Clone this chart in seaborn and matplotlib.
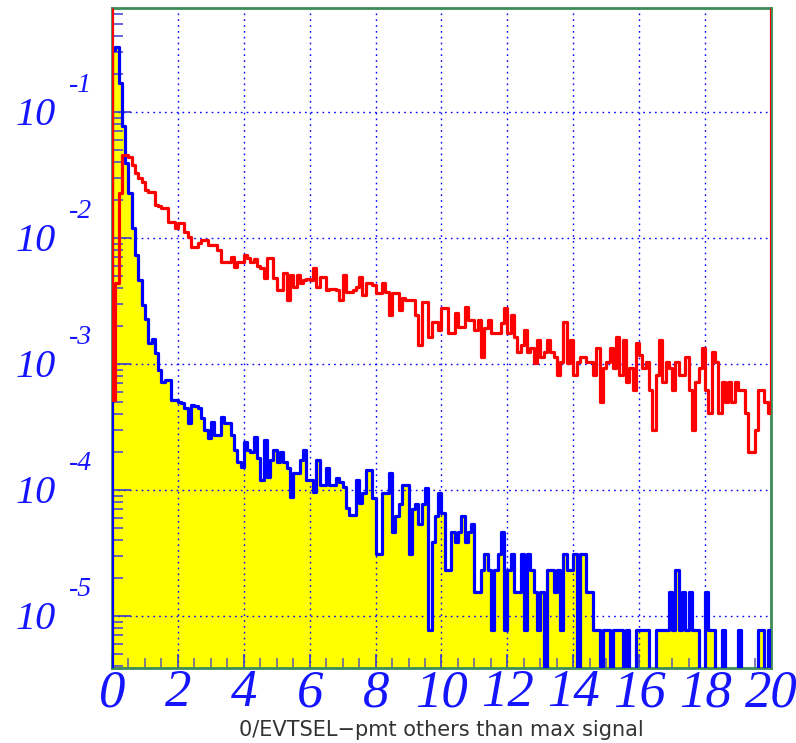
import numpy as np
import pandas as pd
import matplotlib
matplotlib.use("Agg")
import matplotlib.pyplot as plt
import seaborn as sns
from matplotlib import font_manager
from matplotlib.ticker import FixedLocator, LogLocator, NullFormatter

# ---------------------------------------------------------------- data
X_MIN, X_MAX, N_BINS = 0.0, 20.0, 200
Y_MIN, Y_MAX = 3.86e-6, 0.668

# red histogram: bin contents, 0.1 wide bins from 0 to 20
red_vals = [
    5.18e-4, 4.40e-3, 0.0228, 0.0456, 0.0456, 0.0440, 0.0380, 0.0328, 0.0299, 0.0278,
    0.0240, 0.0232, 0.0232, 0.0183, 0.0179, 0.0173, 0.0173, 0.0134, 0.0134, 0.0120,
    0.0132, 0.0132, 0.0112, 0.0102, 8.49e-3, 8.49e-3, 9.12e-3, 9.64e-3, 9.64e-3, 8.80e-3,
    8.80e-3, 8.80e-3, 8.03e-3, 6.45e-3, 6.45e-3, 6.45e-3, 7.07e-3, 5.89e-3, 6.45e-3, 6.45e-3,
    7.33e-3, 6.94e-3, 6.45e-3, 6.81e-3, 6.00e-3, 5.78e-3, 4.82e-3, 6.94e-3, 6.94e-3, 4.82e-3,
    3.87e-3, 3.87e-3, 5.28e-3, 3.22e-3, 5.08e-3, 4.09e-3, 5.08e-3, 4.40e-3, 4.64e-3, 4.73e-3,
    4.64e-3, 5.78e-3, 4.09e-3, 4.90e-3, 4.90e-3, 3.87e-3, 3.94e-3, 3.94e-3, 3.87e-3, 3.22e-3,
    5.08e-3, 3.73e-3, 3.73e-3, 3.87e-3, 4.09e-3, 4.90e-3, 3.53e-3, 4.40e-3, 4.40e-3, 4.24e-3,
    3.66e-3, 3.66e-3, 4.40e-3, 3.73e-3, 2.45e-3, 3.66e-3, 3.66e-3, 2.68e-3, 3.34e-3, 3.22e-3,
    3.22e-3, 3.22e-3, 2.45e-3, 1.42e-3, 3.11e-3, 3.11e-3, 1.64e-3, 2.15e-3, 2.15e-3, 1.86e-3,
    2.78e-3, 2.78e-3, 1.76e-3, 1.76e-3, 2.54e-3, 1.97e-3, 1.97e-3, 2.83e-3, 2.23e-3, 2.23e-3,
    1.86e-3, 2.23e-3, 1.14e-3, 1.93e-3, 2.23e-3, 1.76e-3, 1.76e-3, 1.76e-3, 2.11e-3, 2.78e-3,
    1.76e-3, 2.45e-3, 1.64e-3, 1.25e-3, 1.42e-3, 1.86e-3, 1.25e-3, 1.34e-3, 1.02e-3, 1.55e-3,
    1.14e-3, 1.25e-3, 1.55e-3, 1.25e-3, 1.14e-3, 8.18e-4, 1.04e-3, 2.15e-3, 1.02e-3, 1.55e-3,
    8.18e-4, 1.04e-3, 1.14e-3, 1.14e-3, 1.04e-3, 1.04e-3, 8.18e-4, 1.34e-3, 4.99e-4, 9.30e-4,
    1.04e-3, 1.34e-3, 9.30e-4, 1.64e-3, 8.18e-4, 1.55e-3, 7.19e-4, 9.30e-4, 6.22e-4, 1.47e-3,
    1.18e-3, 9.30e-4, 1.04e-3, 6.22e-4, 2.99e-4, 8.18e-4, 1.55e-3, 7.19e-4, 1.04e-3, 9.30e-4,
    6.22e-4, 1.04e-3, 8.18e-4, 8.18e-4, 1.14e-3, 6.22e-4, 2.99e-4, 7.19e-4, 9.30e-4, 1.34e-3,
    6.22e-4, 4.08e-4, 1.25e-3, 1.04e-3, 4.08e-4, 7.19e-4, 4.99e-4, 7.19e-4, 4.99e-4, 7.19e-4,
    6.22e-4, 6.22e-4, 4.08e-4, 2.00e-4, 2.00e-4, 2.99e-4, 6.22e-4, 6.22e-4, 4.99e-4, 4.08e-4,
]

# blue histogram (yellow filled): bin contents on the same binning
blue_vals = [
    0.310, 0.328, 0.170, 0.0774, 0.0394, 0.0228, 0.0120, 7.33e-3, 4.64e-3, 2.94e-3,
    2.28e-3, 1.47e-3, 1.58e-3, 1.22e-3, 8.96e-4, 7.19e-4, 7.46e-4, 7.46e-4, 5.18e-4, 5.18e-4,
    4.99e-4, 4.90e-4, 4.48e-4, 3.40e-4, 4.73e-4, 4.64e-4, 4.48e-4, 3.73e-4, 2.99e-4, 2.59e-4,
    3.47e-4, 2.73e-4, 2.73e-4, 3.80e-4, 3.40e-4, 3.40e-4, 2.73e-4, 2.08e-4, 1.67e-4, 1.52e-4,
    2.40e-4, 2.08e-4, 2.00e-4, 2.64e-4, 1.79e-4, 1.20e-4, 2.49e-4, 1.27e-4, 1.73e-4, 2.08e-4,
    1.67e-4, 2.00e-4, 1.67e-4, 1.50e-4, 8.80e-5, 1.36e-4, 1.36e-4, 1.73e-4, 2.08e-4, 1.20e-4,
    1.20e-4, 9.64e-5, 1.73e-4, 1.10e-4, 1.10e-4, 1.50e-4, 1.10e-4, 1.10e-4, 1.25e-4, 1.16e-4,
    1.06e-4, 7.19e-5, 6.34e-5, 6.34e-5, 1.20e-4, 7.88e-5, 9.46e-5, 1.44e-4, 1.44e-4, 8.65e-5,
    3.10e-5, 3.10e-5, 9.46e-5, 9.46e-5, 1.36e-4, 4.65e-5, 6.20e-5, 7.75e-5, 1.10e-4, 1.10e-4,
    3.10e-5, 7.00e-5, 7.75e-5, 5.40e-5, 7.75e-5, 1.04e-4, 7.75e-6, 3.88e-5, 6.20e-5, 9.46e-5,
    6.56e-5, 2.33e-5, 2.33e-5, 4.65e-5, 3.88e-5, 4.65e-5, 6.20e-5, 3.88e-5, 4.65e-5, 5.40e-5,
    1.55e-5, 1.55e-5, 2.33e-5, 3.10e-5, 2.33e-5, 7.75e-6, 2.33e-5, 3.10e-5, 4.65e-5, 7.75e-6,
    2.33e-5, 3.10e-5, 1.55e-5, 1.55e-5, 3.10e-5, 7.75e-6, 3.10e-5, 2.33e-5, 1.55e-5, 7.75e-6,
    1.55e-5, 0.0, 2.33e-5, 2.33e-5, 1.55e-5, 2.33e-5, 7.75e-6, 3.10e-5, 2.33e-5, 2.33e-5,
    3.10e-5, 0.0, 3.10e-5, 3.10e-5, 1.55e-5, 1.55e-5, 7.75e-6, 7.75e-6, 0.0, 7.75e-6,
    7.75e-6, 0.0, 7.75e-6, 7.75e-6, 7.75e-6, 0.0, 7.75e-6, 0.0, 0.0, 7.75e-6,
    7.75e-6, 7.75e-6, 7.75e-6, 0.0, 0.0, 7.75e-6, 7.75e-6, 7.75e-6, 7.75e-6, 1.55e-5,
    7.75e-6, 2.33e-5, 7.75e-6, 1.55e-5, 7.75e-6, 1.55e-5, 7.75e-6, 7.75e-6, 0.0, 0.0,
    1.55e-5, 7.75e-6, 7.75e-6, 0.0, 0.0, 7.75e-6, 0.0, 0.0, 0.0, 0.0,
    7.75e-6, 0.0, 0.0, 0.0, 0.0, 0.0, 7.75e-6, 7.75e-6, 0.0, 7.75e-6,
]

x_ticks = [0, 2, 4, 6, 8, 10, 12, 14, 16, 18, 20]
x_tick_labels = [str(v) for v in x_ticks]
y_decades = [-5, -4, -3, -2, -1]
x_title = "0/EVTSEL\u2212pmt others than max signal"

# ---------------------------------------------------------------- style
RED, BLUE, YELLOW = "#ff0000", "#0000ff", "#ffff00"
FRAME = "#3d8c58"
LABEL_BLUE = "#1414ff"

sns.set_theme(style="white")
plt.rcParams["font.family"] = ["DejaVu Sans"]

# italic Times-like face for the axis numbers
serif_file = font_manager.findfont(
    font_manager.FontProperties(family=["Liberation Serif", "DejaVu Serif"],
                                style="italic"))


def num_font(size):
    return font_manager.FontProperties(fname=serif_file, size=size)


edges = np.linspace(X_MIN, X_MAX, N_BINS + 1)
df = pd.DataFrame({"x": 0.5 * (edges[:-1] + edges[1:]),
                   "red": red_vals, "blue": blue_vals})

fig = plt.figure(figsize=(7.96, 7.43), dpi=100)
ax = fig.add_axes([112 / 796, 1 - 668 / 743, (771 - 112) / 796, (668 - 8) / 743])

hist_kws = dict(data=df, x="x", bins=N_BINS, binrange=(X_MIN, X_MAX),
                element="step", ax=ax)
# yellow area under the blue histogram
sns.histplot(weights="blue", fill=True, color=YELLOW, alpha=1, linewidth=0,
             zorder=1, **hist_kws)
# blue outline
sns.histplot(weights="blue", fill=False, color=BLUE, linewidth=2.3,
             zorder=3, **hist_kws)
# red outline
sns.histplot(weights="red", fill=False, color=RED, linewidth=2.3,
             zorder=4, **hist_kws)

ax.set_yscale("log")
ax.set_xlim(X_MIN, X_MAX)
ax.set_ylim(Y_MIN, Y_MAX)

# outer edges of the outlines
ax.vlines([edges[0], edges[-1]], Y_MIN, [blue_vals[0], blue_vals[-1]],
          color=BLUE, linewidth=2.3, zorder=3)
ax.vlines([edges[0], edges[-1]], [red_vals[0], red_vals[-1]], Y_MAX,
          color=RED, linewidth=2.3, zorder=4)

# frame
for side in ["left", "right", "top", "bottom"]:
    ax.spines[side].set_color(FRAME)
    ax.spines[side].set_linewidth(2.0)

# grid
ax.set_axisbelow("line")
ax.grid(True, which="major", color=BLUE, linestyle=(0, (1.2, 3.0)), linewidth=1.0)

# x axis ticks
ax.set_xticks(x_ticks)
ax.set_xticklabels(x_tick_labels, fontproperties=num_font(38))
ax.xaxis.set_minor_locator(FixedLocator(np.arange(X_MIN, X_MAX + 0.01, 0.5)))
ax.tick_params(axis="x", which="major", direction="in", length=10, width=1.2,
               color="#3a3ad0", labelcolor=LABEL_BLUE, pad=1,
               bottom=True, top=False)
ax.tick_params(axis="x", which="minor", direction="in", length=7, width=1.2,
               color="#6a6aa0", bottom=True, top=False)

# y axis ticks
ax.set_yticks([10.0 ** k for k in y_decades])
ax.yaxis.set_minor_locator(LogLocator(base=10, subs=np.arange(2, 10)))
ax.yaxis.set_minor_formatter(NullFormatter())
ax.tick_params(axis="y", which="major", direction="in", length=14, width=1.2,
               color="#3a3ad0", labelleft=False, left=True, right=False)
ax.tick_params(axis="y", which="minor", direction="in", length=8, width=1.2,
               color="#4a4ad0", left=True, right=False)

# decade labels: mantissa with a raised exponent
ytrans = ax.get_yaxis_transform()
for k in y_decades:
    ax.annotate("10", xy=(0, 10.0 ** k), xycoords=ytrans,
                xytext=(-56, -4), textcoords="offset pixels",
                ha="right", va="center", fontproperties=num_font(29),
                color=LABEL_BLUE, annotation_clip=False)
    ax.annotate(str(k), xy=(0, 10.0 ** k), xycoords=ytrans,
                xytext=(-31, 26), textcoords="offset pixels",
                ha="center", va="center", fontproperties=num_font(20),
                color=LABEL_BLUE, annotation_clip=False)

ax.set_ylabel("")
ax.set_xlabel(x_title, fontsize=15, color="#333333", family=["DejaVu Sans"])
ax.xaxis.set_label_coords(0.5, -0.094)
ax.xaxis.label.set_va("center")

fig.patch.set_facecolor("white")
ax.set_facecolor("white")
fig.savefig("out.png", dpi=100)
